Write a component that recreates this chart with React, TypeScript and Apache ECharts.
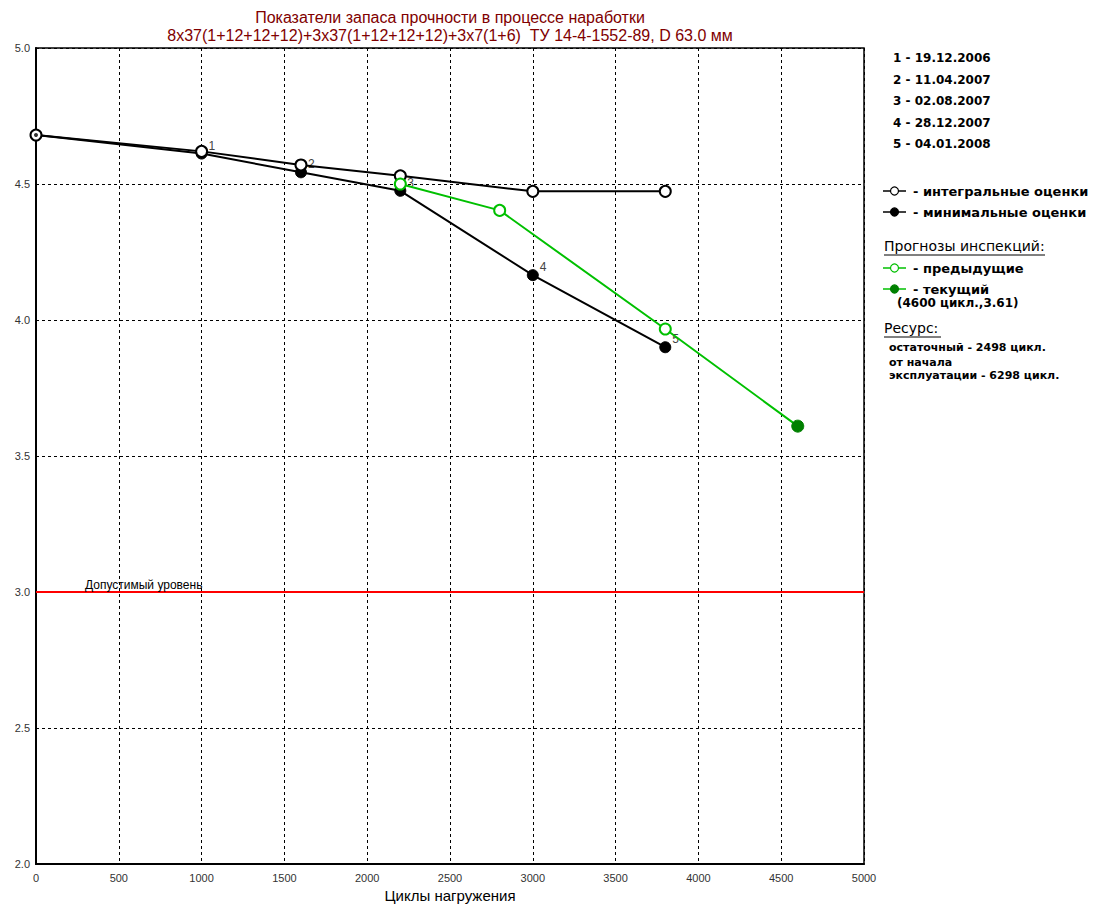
import React, { useEffect, useRef } from "react";
import * as echarts from "echarts";

const titleLines = [
  "Показатели запаса прочности в процессе наработки",
  "8x37(1+12+12+12)+3x37(1+12+12+12)+3x7(1+6)  ТУ 14-4-1552-89, D 63.0 мм",
];
const cycles = [0, 1000, 1600, 2200, 3000, 3800];
const integralValues = [4.68, 4.62, 4.57, 4.53, 4.473, 4.473];
const minimalValues = [4.68, 4.612, 4.543, 4.475, 4.165, 3.9];
const inspectionLabels = ["", "1", "2", "3", "4", "5"];
const forecastCycles = [2200, 2800, 3800, 4600];
const forecastValues = [4.5, 4.403, 3.967, 3.61];
const allowedLevel = 3.0;
const allowedLabel = "Допустимый уровень";
const inspectionDates = [
  "1 - 19.12.2006",
  "2 - 11.04.2007",
  "3 - 02.08.2007",
  "4 - 28.12.2007",
  "5 - 04.01.2008",
];
const legendSeries = ["- интегральные оценки", "- минимальные оценки"];
const forecastHeader = "Прогнозы инспекций:";
const forecastLegend = ["- предыдущие", "- текущий", "(4600 цикл.,3.61)"];
const resourceHeader = "Ресурс:";
const resourceLines = ["остаточный - 2498 цикл.", "от начала", "эксплуатации - 6298 цикл."];
const xAxisName = "Циклы нагружения";

const FONT = "'Liberation Sans', Arial, sans-serif";
const PANEL_FONT = "'DejaVu Sans', 'Liberation Sans', sans-serif";
const GREEN = "#00c000";
const DARK_GREEN = "#008000";

export default function App() {
  const ref = useRef<HTMLDivElement>(null);
  useEffect(() => {
    if (!ref.current) return;
    const chart = echarts.init(ref.current, null, { renderer: "svg" });

    const txt = (x: number, y: number, text: string, style: any = {}) => ({
      type: "text",
      x,
      y,
      style: {
        text,
        fill: "#000",
        font: `bold 12px ${PANEL_FONT}`,
        textVerticalAlign: "middle",
        ...style,
      },
    });
    const legendMark = (y: number, color: string, fill: string, stroke: string) => [
      { type: "line", shape: { x1: 883, y1: y, x2: 906, y2: y }, style: { stroke: color, lineWidth: 1.5 } },
      { type: "circle", shape: { cx: 894.5, cy: y, r: 4 }, style: { fill, stroke, lineWidth: 1.2 } },
    ];

    const graphic: any[] = [
      txt(450, 17, titleLines[0], { textAlign: "center", fill: "#800000", font: `16px ${FONT}` }),
      txt(450, 35, titleLines[1], { textAlign: "center", fill: "#800000", font: `16px ${FONT}` }),
      ...inspectionDates.map((d, i) => txt(893, 58 + i * 21.6, d, { font: `bold 12px ${PANEL_FONT}` })),
      ...legendMark(191, "#000", "#fff", "#000"),
      txt(913, 191, legendSeries[0], { font: `bold 13px ${PANEL_FONT}` }),
      ...legendMark(212, "#000", "#000", "#000"),
      txt(913, 212, legendSeries[1], { font: `bold 13px ${PANEL_FONT}` }),
      txt(884, 246, forecastHeader, { font: `14px ${PANEL_FONT}` }),
      { type: "line", shape: { x1: 884, y1: 255, x2: 1045, y2: 255 }, style: { stroke: "#000", lineWidth: 1 } },
      ...legendMark(268, GREEN, "#fff", GREEN),
      txt(913, 268, forecastLegend[0], { font: `bold 13px ${PANEL_FONT}` }),
      ...legendMark(289, GREEN, DARK_GREEN, DARK_GREEN),
      txt(913, 289, forecastLegend[1], { font: `bold 13px ${PANEL_FONT}` }),
      txt(897, 303, forecastLegend[2], { font: `bold 12px ${PANEL_FONT}` }),
      txt(884, 328, resourceHeader, { font: `14px ${PANEL_FONT}` }),
      { type: "line", shape: { x1: 884, y1: 337, x2: 941, y2: 337 }, style: { stroke: "#000", lineWidth: 1 } },
      txt(889, 347, resourceLines[0], { font: `bold 11px ${PANEL_FONT}` }),
      txt(889, 362, resourceLines[1], { font: `bold 11px ${PANEL_FONT}` }),
      txt(889, 375, resourceLines[2], { font: `bold 11px ${PANEL_FONT}` }),
    ];

    chart.setOption({
      animation: false,
      backgroundColor: "#fff",
      grid: {
        left: 36,
        top: 48,
        right: 240,
        bottom: 38,
        show: true,
        borderColor: "#000",
        borderWidth: 1.5,
        backgroundColor: "#fff",
      },
      xAxis: {
        type: "value",
        min: 0,
        max: 5000,
        interval: 500,
        name: xAxisName,
        nameLocation: "middle",
        nameGap: 23,
        nameTextStyle: { color: "#000", fontSize: 15, fontFamily: FONT },
        axisLine: { show: true, onZero: false, lineStyle: { color: "#000", width: 2 } },
        axisTick: { show: false },
        axisLabel: {
          color: "#333",
          fontSize: 11,
          fontFamily: "'Liberation Sans Narrow', " + FONT,
          margin: 8,
          formatter: (v: number) => String(v),
        },
        splitLine: { show: true, lineStyle: { color: "#000", type: [3, 3], width: 1 } },
      },
      yAxis: {
        type: "value",
        min: 2,
        max: 5,
        interval: 0.5,
        axisLine: { show: true, onZero: false, lineStyle: { color: "#000", width: 2 } },
        axisTick: { show: false },
        axisLabel: {
          color: "#333",
          fontSize: 11,
          fontFamily: FONT,
          margin: 6,
          formatter: (v: number) => v.toFixed(1),
        },
        splitLine: { show: true, lineStyle: { color: "#000", type: [3, 3], width: 1 } },
      },
      graphic,
      series: [
        {
          type: "line",
          name: "minimal",
          z: 2,
          data: cycles.map((c, i) => ({
            value: [c, minimalValues[i]],
            label: {
              show: inspectionLabels[i] !== "",
              formatter: inspectionLabels[i],
              position: "right",
              distance: 1,
              offset: [0, -8],
              color: "#444",
              fontSize: 12,
              fontFamily: FONT,
            },
          })),
          symbol: "circle",
          symbolSize: 11,
          showAllSymbol: true,
          lineStyle: { color: "#000", width: 2 },
          itemStyle: { color: "#000", borderColor: "#000", borderWidth: 1 },
          markLine: {
            silent: true,
            symbol: ["none", "none"],
            lineStyle: { color: "#ff0000", width: 2, type: "solid" },
            label: {
              show: true,
              position: "insideStartTop",
              formatter: allowedLabel,
              color: "#000",
              fontSize: 12,
              fontFamily: FONT,
              padding: [0, 0, 0, 48],
              distance: 1,
            },
            data: [{ yAxis: allowedLevel }],
          },
        },
        {
          type: "line",
          name: "integral",
          z: 3,
          data: cycles.map((c, i) => [c, integralValues[i]]),
          symbol: "circle",
          symbolSize: 11,
          showAllSymbol: true,
          lineStyle: { color: "#000", width: 2 },
          itemStyle: { color: "#fff", borderColor: "#000", borderWidth: 2 },
        },
        {
          type: "scatter",
          name: "start",
          z: 4,
          data: [[cycles[0], minimalValues[0]]],
          symbol: "circle",
          symbolSize: 4,
          itemStyle: { color: "#000" },
        },
        {
          type: "line",
          name: "forecast",
          z: 5,
          data: forecastCycles.map((c, i) => {
            const last = i === forecastCycles.length - 1;
            return {
              value: [c, forecastValues[i]],
              symbolSize: last ? 12 : 11,
              itemStyle: last
                ? { color: DARK_GREEN, borderColor: DARK_GREEN, borderWidth: 1 }
                : { color: "#fff", borderColor: GREEN, borderWidth: 2 },
            };
          }),
          symbol: "circle",
          showAllSymbol: true,
          lineStyle: { color: GREEN, width: 2 },
        },
      ],
    });
    return () => chart.dispose();
  }, []);
  return (
    <div
      ref={ref}
      style={{ position: "fixed", left: 0, top: 0, width: 1104, height: 908, background: "#fff" }}
    />
  );
}
